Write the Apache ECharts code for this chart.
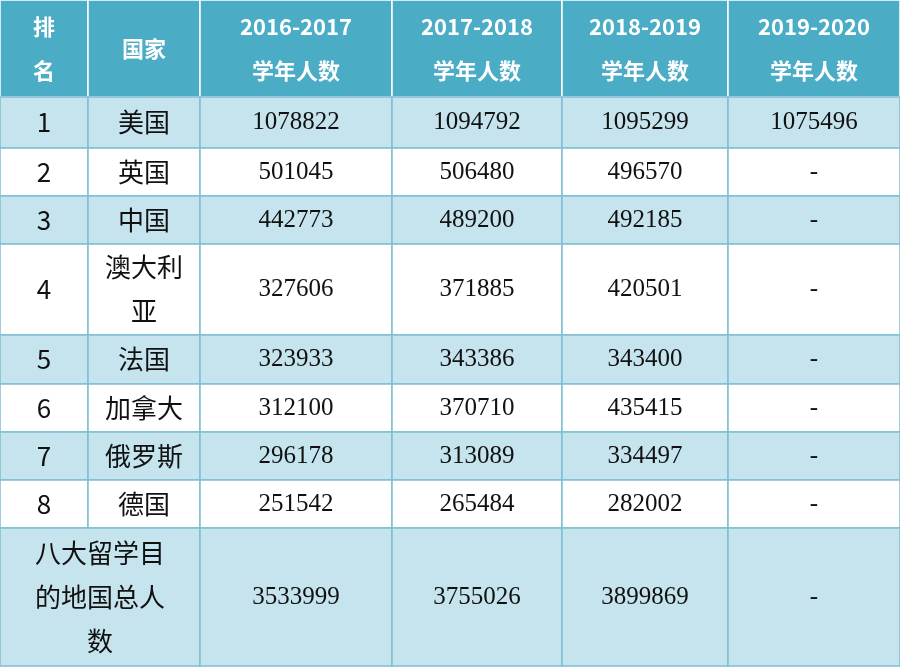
<!DOCTYPE html>
<html><head><meta charset="utf-8">
<script src="https://cdn.jsdelivr.net/npm/echarts@6/dist/echarts.min.js"></script>
<style>html,body{margin:0;padding:0;background:#fff}#c{width:900px;height:668px}</style>
</head><body><div id="c"></div>
<script>
const headers = ['排\n名', '国家', '2016-2017\n学年人数', '2017-2018\n学年人数', '2018-2019\n学年人数', '2019-2020\n学年人数'];
const ranks = ['1','2','3','4','5','6','7','8'];
const countries = ['美国','英国','中国','澳大利\n亚','法国','加拿大','俄罗斯','德国'];
const y2016 = ['1078822','501045','442773','327606','323933','312100','296178','251542'];
const y2017 = ['1094792','506480','489200','371885','343386','370710','313089','265484'];
const y2018 = ['1095299','496570','492185','420501','343400','435415','334497','282002'];
const y2019 = ['1075496','-','-','-','-','-','-','-'];
const totalLabel = '八大留学目\n的地国总人\n数';
const totals = ['3533999','3755026','3899869','-'];

const colEdges = [0, 88, 200, 392, 562, 728, 900];
const rowEdges = [0, 97, 148, 196, 244, 335, 384, 432, 480, 528, 666];

const HEAD = '#4bacc6', BLUE = '#c6e4ee', WHITE = '#ffffff';
const cells = [];
headers.forEach((h, c) => cells.push([colEdges[c], colEdges[c+1], rowEdges[0], rowEdges[1], h, 'head']));
for (let r = 0; r < 8; r++) {
  const vals = [ranks[r], countries[r], y2016[r], y2017[r], y2018[r], y2019[r]];
  const kind = r % 2 === 0 ? 'blue' : 'white';
  vals.forEach((v, c) => cells.push([colEdges[c], colEdges[c+1], rowEdges[r+1], rowEdges[r+2], v, kind, c]));
}
cells.push([colEdges[0], colEdges[2], rowEdges[9], rowEdges[10], totalLabel, 'blue', 1]);
totals.forEach((v, i) => cells.push([colEdges[i+2], colEdges[i+3], rowEdges[9], rowEdges[10], v, 'blue', i+2]));

const chart = echarts.init(document.getElementById('c'));
chart.setOption({
  animation: false,
  grid: {left: 0, right: 0, top: 0, bottom: 0},
  xAxis: {type: 'value', min: 0, max: 900, show: false},
  yAxis: {type: 'value', min: 0, max: 668, inverse: true, show: false},
  series: [{
    type: 'custom',
    data: cells,
    renderItem: function (params, api) {
      const d = cells[params.dataIndex];
      const p0 = api.coord([d[0], d[2]]), p1 = api.coord([d[1], d[3]]);
      const kind = d[5];
      const fill = kind === 'head' ? HEAD : kind === 'blue' ? BLUE : WHITE;
      const isNum = kind !== 'head' && d[6] >= 2;
      const isHead = kind === 'head';
      return {
        type: 'group',
        children: [{
          type: 'rect',
          shape: {x: p0[0], y: p0[1], width: p1[0]-p0[0], height: p1[1]-p0[1]},
          style: {fill: fill, stroke: isHead ? '#ffffff' : '#7fbfd3', lineWidth: 1.5}
        }, {
          type: 'text',
          x: (p0[0]+p1[0])/2, y: (p0[1]+p1[1])/2,
          style: {
            text: d[4], align: 'center', verticalAlign: 'middle',
            fill: isHead ? '#ffffff' : '#111111',
            font: isHead ? 'bold 22px "Noto Sans CJK SC", sans-serif'
              : isNum ? '25px "Liberation Serif", "DejaVu Serif", serif'
              : '26px "Noto Sans CJK SC", sans-serif',
            lineHeight: isHead ? 44 : (d[6] === 1 && d[3]-d[2] > 80 ? 44 : 30)
          }
        }]
      };
    }
  }]
});
</script></body></html>
